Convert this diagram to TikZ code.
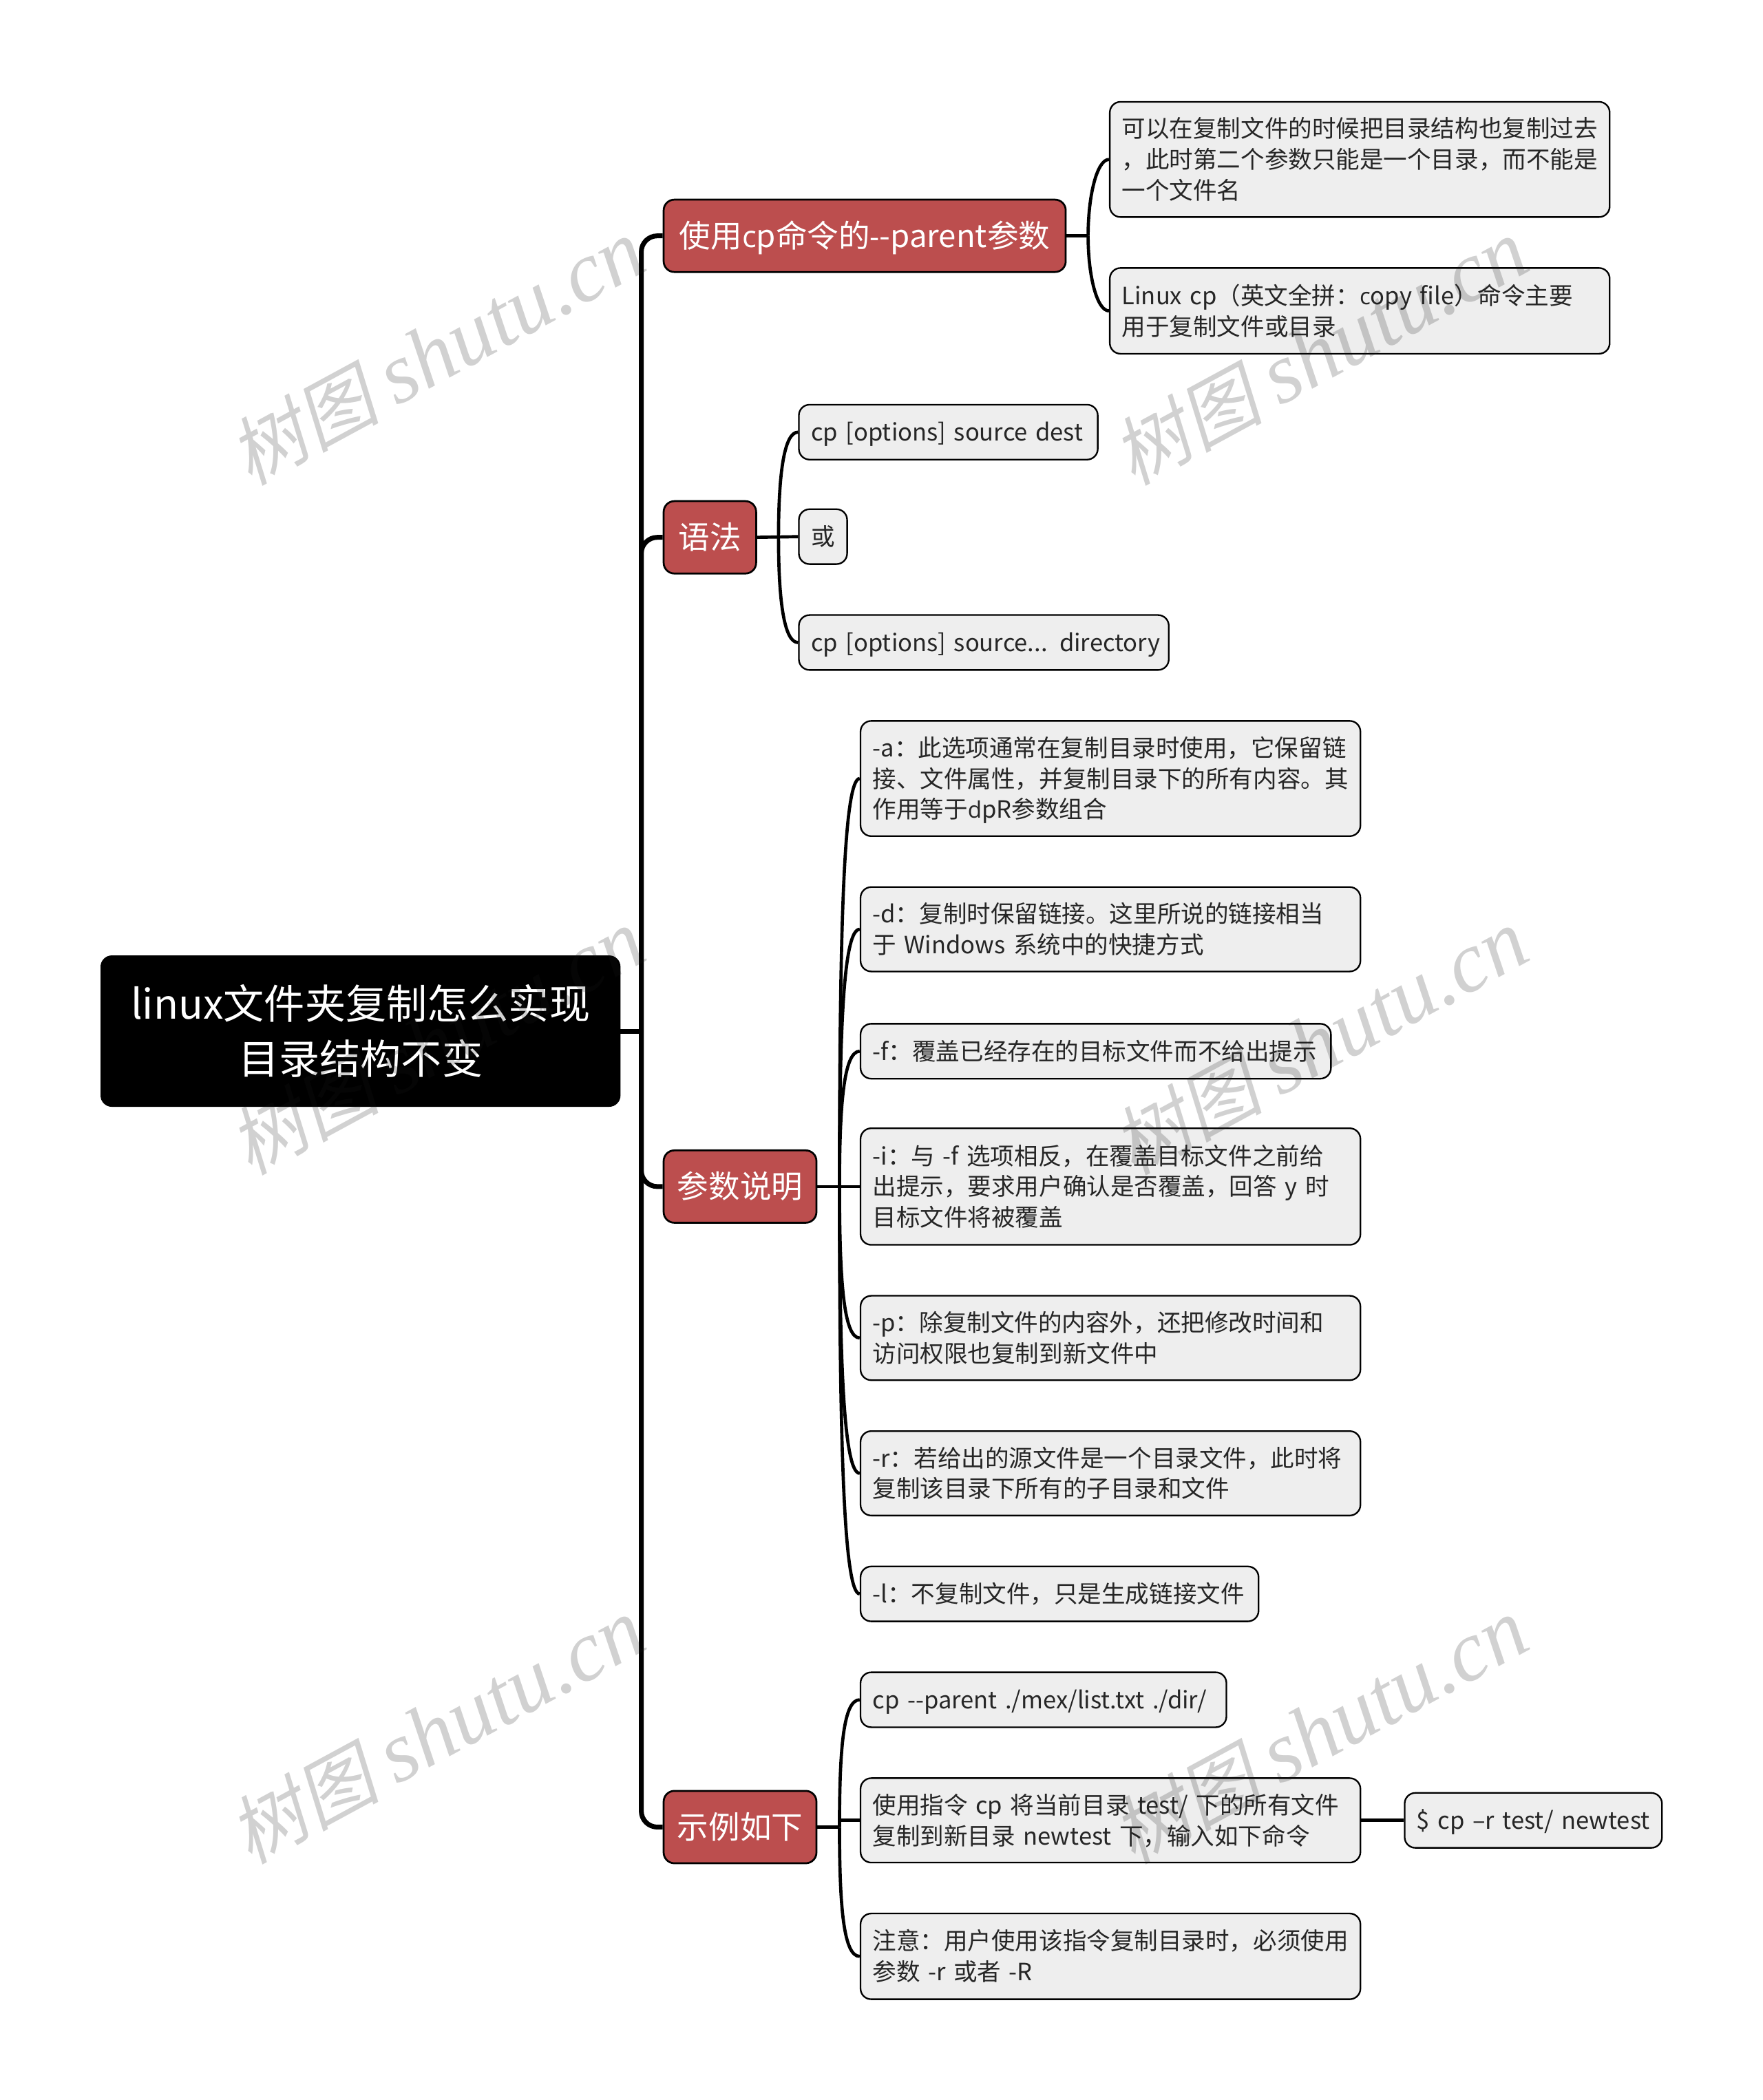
\documentclass[tikz,border=0pt]{standalone}
\usepackage{fontspec}
\setmainfont{Noto Sans CJK SC}
\newfontfamily\cjkmain{Noto Sans CJK SC}
\newfontfamily\latinfont[Scale=0.96]{Open Sans}
\newfontfamily\markcjk[FakeSlant=0.2]{Noto Sans CJK SC}
\newfontfamily\marklatin{Liberation Serif}
% Latin letters in the boxes come from another family than the Chinese ones
\newXeTeXintercharclass\latinclass
\makeatletter
\@tempcnta="21
\loop
	\XeTeXcharclass\@tempcnta=\latinclass
	\advance\@tempcnta by 1
\ifnum\@tempcnta<"7F\repeat
\makeatother
\XeTeXcharclass"2013=\latinclass
\XeTeXinterchartokenstate=1
\XeTeXinterchartoks 0 \latinclass={\latinfont}
\XeTeXinterchartoks 1 \latinclass={\latinfont}
\XeTeXinterchartoks 2 \latinclass={\latinfont}
\XeTeXinterchartoks 3 \latinclass={\latinfont}
\XeTeXinterchartoks 4095 \latinclass={\latinfont}
\XeTeXinterchartoks \latinclass 0={\cjkmain}
\XeTeXinterchartoks \latinclass 1={\cjkmain}
\XeTeXinterchartoks \latinclass 2={\cjkmain}
\XeTeXinterchartoks \latinclass 3={\cjkmain}
\XeTeXinterchartoks 4095 0={\cjkmain}
\XeTeXinterchartoks 4095 1={\cjkmain}
\XeTeXinterchartoks 4095 2={\cjkmain}
\XeTeXinterchartoks 4095 3={\cjkmain}
\definecolor{branchred}{HTML}{BC4E4E}
\definecolor{leafgray}{HTML}{EEEEEE}
\definecolor{inkgray}{HTML}{262626}
\tikzset{
	rootbox/.style={draw=black,fill=black,text=white,rounded corners=8pt,anchor=west,align=center,
		inner sep=0pt,line width=1pt,font=\fontsize{30.4}{41}\selectfont},
	branchbox/.style={draw=black,fill=branchred,text=white,rounded corners=8pt,anchor=west,align=center,
		inner sep=0pt,line width=1.4pt,font=\fontsize{23.4}{28}\selectfont,
		execute at begin node={\rule[-5.3pt]{0pt}{28pt}}},
	leafbox/.style={draw=black,fill=leafgray,text=inkgray,rounded corners=8pt,anchor=west,align=left,
		inner xsep=9pt,inner ysep=0pt,line width=1.2pt,font=\fontsize{17.75}{23}\selectfont,
		execute at begin node={\rule[-4.8pt]{0pt}{23pt}},execute at end node={\rule[-4.8pt]{0pt}{23pt}}},
	mainlink/.style={draw=black,line width=3.6pt},
	sublink/.style={draw=black,line width=2.4pt},
	markbox/.style={rotate=28.5,text=gray!20!black,opacity=.2,text opacity=.2,inner sep=0pt}
}

\begin{document}
\begin{tikzpicture}[x=1pt,y=-1pt]
	\useasboundingbox (0,0) rectangle (1315,1567.2);
	% root and branches
	\node[rootbox,minimum width=387pt,minimum height=112pt] (root) at (75,769.5) {linux文件夹复制怎么实现\\目录结构不变};
	\node[branchbox,minimum width=300pt,minimum height=54pt] (parent) at (494.5,176) {使用cp命令的-{}-parent参数};
	\node[branchbox,minimum width=69pt,minimum height=54pt] (syntax) at (494.5,401) {语法};
	\node[branchbox,minimum width=114pt,minimum height=54pt] (params) at (494.5,885.5) {参数说明};
	\node[branchbox,minimum width=114pt,minimum height=54pt] (usage) at (494.5,1363.5) {示例如下};
	% leaves of the first branch
	\node[leafbox,text width=355pt,minimum height=86pt] (why) at (827.5,119) {可以在复制文件的时候把目录结构也复制过去\\，此时第二个参数只能是一个目录，而不能是\\一个文件名};
	\node[leafbox,text width=355pt,minimum height=64pt] (what) at (827.5,232) {Linux cp（英文全拼：copy file）命令主要\\用于复制文件或目录};
	% leaves of the second branch
	\node[leafbox,text width=205pt,minimum height=41pt] (formone) at (595.5,322.5) {\mbox{cp [options] source dest}};
	\node[leafbox,text width=18pt,minimum height=41pt] (orword) at (595.5,400.5) {\mbox{或}};
	\node[leafbox,text width=258pt,minimum height=41pt] (formtwo) at (595.5,479.5) {\mbox{cp [options] source... directory}};
	% leaves of the third branch
	\node[leafbox,text width=355pt,minimum height=86pt] (opta) at (641.5,581) {-a：此选项通常在复制目录时使用，它保留链\\接、文件属性，并复制目录下的所有内容。其\\作用等于dpR参数组合};
	\node[leafbox,text width=355pt,minimum height=63pt] (optd) at (641.5,693.5) {-d：复制时保留链接。这里所说的链接相当\\于 Windows 系统中的快捷方式};
	\node[leafbox,text width=333pt,minimum height=41pt] (optf) at (641.5,784.5) {\mbox{-f：覆盖已经存在的目标文件而不给出提示}};
	\node[leafbox,text width=355pt,minimum height=87pt] (opti) at (641.5,885.5) {-i：与 -f 选项相反，在覆盖目标文件之前给\\出提示，要求用户确认是否覆盖，回答 y 时\\目标文件将被覆盖};
	\node[leafbox,text width=355pt,minimum height=63pt] (optp) at (641.5,998.5) {-p：除复制文件的内容外，还把修改时间和\\访问权限也复制到新文件中};
	\node[leafbox,text width=355pt,minimum height=63pt] (optr) at (641.5,1099.5) {-r：若给出的源文件是一个目录文件，此时将\\复制该目录下所有的子目录和文件};
	\node[leafbox,text width=279pt,minimum height=41pt] (optl) at (641.5,1189.5) {\mbox{-l：不复制文件，只是生成链接文件}};
	% leaves of the last branch
	\node[leafbox,text width=255pt,minimum height=41pt] (cmdone) at (641.5,1268.5) {\mbox{cp -{}-parent ./mex/list.txt ./dir/}};
	\node[leafbox,text width=355pt,minimum height=63pt] (cmdtwo) at (641.5,1358.5) {使用指令 cp 将当前目录 test/ 下的所有文件\\复制到新目录 newtest 下，输入如下命令};
	\node[leafbox,text width=355pt,minimum height=64pt] (note) at (641.5,1460) {注意：用户使用该指令复制目录时，必须使用\\参数 -r 或者 -R};
	\node[leafbox,text width=174pt,minimum height=41pt] (cmdthree) at (1047.5,1358.5) {\mbox{\$ cp –r test/ newtest}};
	% links from the root
	\draw[mainlink] (root.east) -- ++(15.5,0) coordinate (trunk);
	\draw[mainlink,rounded corners=12pt] (parent.west) -| (trunk) |- (usage.west);
	\draw[mainlink,rounded corners=12pt] (trunk) |- (syntax.west);
	\draw[mainlink,rounded corners=12pt] (trunk) |- (params.west);
	% links to the leaves
	\draw[sublink] (parent.east) -- ++(16,0) coordinate (forka);
	\foreach \leaf/\up/\down in {why/90/30,what/-90/30}
		\draw[sublink] (forka) to[out=\up,in=180,out distance=\down pt,in distance=9pt] (\leaf.west);
	\draw[sublink] (syntax.east) -- (orword.west);
	\path (syntax.east) ++(16,0) coordinate (forkb);
	\foreach \leaf/\up/\down in {formone/90/50,formtwo/-90/50}
		\draw[sublink] (forkb) to[out=\up,in=180,out distance=\down pt,in distance=10pt] (\leaf.west);
	\draw[sublink] (params.east) -- (opti.west);
	\path (params.east) ++(16.5,0) coordinate (forkc);
	\foreach \leaf/\up/\down in {opta/90/190,optd/90/120,optf/90/60,optp/-90/70,optr/-90/130,optl/-90/190}
		\draw[sublink] (forkc) to[out=\up,in=180,out distance=\down pt,in distance=12pt] (\leaf.west);
	\draw[sublink] (usage.east) -- ++(16.5,0) coordinate (forkd);
	\draw[sublink] (forkd) -- (forkd |- cmdtwo.west) -- (cmdtwo.west);
	\foreach \leaf/\up/\down in {cmdone/90/60,note/-90/60}
		\draw[sublink] (forkd) to[out=\up,in=180,out distance=\down pt,in distance=12pt] (\leaf.west);
	\draw[sublink] (cmdtwo.east) -- (cmdthree.west);
	% watermarks
	\foreach \col/\xpos in {a/326,b/985}
		\foreach \row/\ypos in {a/263,b/778,c/1292}
			\node[markbox] (mark\col\row) at (\xpos,\ypos) {\XeTeXinterchartokenstate=0\fontsize{56}{56}\selectfont{\markcjk 树图} \fontsize{64}{64}\selectfont\marklatin\itshape shutu.cn};
\end{tikzpicture}
\end{document}
